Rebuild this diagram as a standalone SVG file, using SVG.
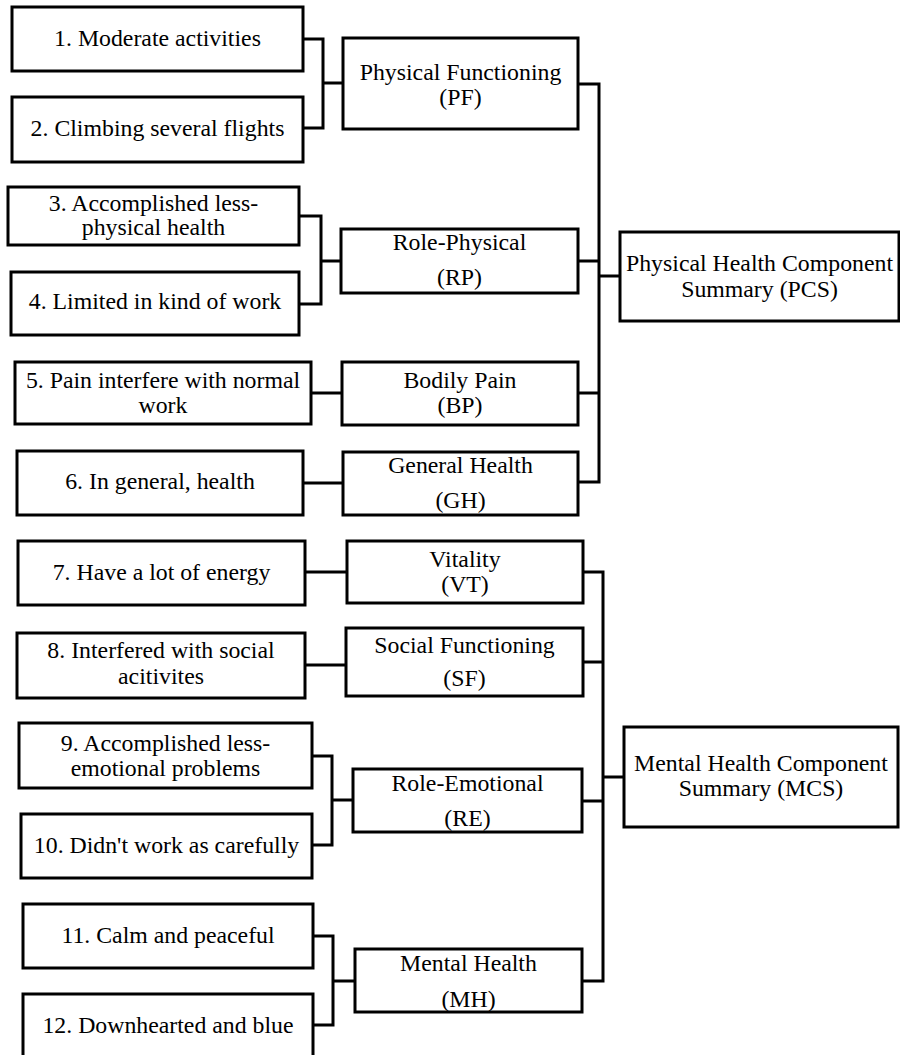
<svg xmlns="http://www.w3.org/2000/svg" width="900" height="1055" viewBox="0 0 900 1055">
<style>
rect{fill:#fff;stroke:#000;stroke-width:3}
text{font-family:"Liberation Serif","Times New Roman",Times,serif;font-size:23.8px;fill:#000;text-anchor:middle}
#connectors path{fill:none;stroke:#000;stroke-width:3}
</style>
<rect x="0" y="0" width="900" height="1055" style="stroke:none"/>
<g id="connectors">
<path d="M303,39 H323 V128 H303 M323,83 H343"/>
<path d="M299,216 H321 V304 H299 M321,261 H341"/>
<path d="M311,393 H342"/>
<path d="M303,483 H343"/>
<path d="M578,84 H599 V482 H578 M578,261 H599 M578,393 H599 M599,276 H620"/>
<path d="M305,572 H347"/>
<path d="M305,665 H346"/>
<path d="M312,756 H332 V845 H312 M332,800 H353"/>
<path d="M313,936 H333 V1025 H313 M333,981 H355"/>
<path d="M583,572 H603 V981 H582 M583,662 H603 M582,801 H603 M603,777 H624"/>
</g>
<g id="n1"><rect x="12" y="7" width="291" height="64"/><text x="157.5" y="46">1. Moderate activities</text></g>
<g id="n2"><rect x="12" y="97" width="291" height="65"/><text x="157.5" y="136">2. Climbing several flights</text></g>
<g id="pf"><rect x="343" y="38" width="235" height="91"/><text x="460.5" y="80">Physical Functioning</text><text x="460.5" y="105">(PF)</text></g>
<g id="n3"><rect x="8" y="187" width="291" height="58"/><text x="153.5" y="211">3. Accomplished less-</text><text x="153.5" y="235">physical health</text></g>
<g id="n4"><rect x="11" y="272" width="288" height="63"/><text x="155" y="309">4. Limited in kind of work</text></g>
<g id="rp"><rect x="341" y="229" width="237" height="64"/><text x="459.5" y="250">Role-Physical</text><text x="459.5" y="285">(RP)</text></g>
<g id="n5"><rect x="15" y="362" width="296" height="62"/><text x="163" y="388">5. Pain interfere with normal</text><text x="163" y="413">work</text></g>
<g id="bp"><rect x="342" y="362" width="236" height="63"/><text x="460" y="388">Bodily Pain</text><text x="460" y="413">(BP)</text></g>
<g id="n6"><rect x="17" y="451" width="286" height="64"/><text x="160" y="489">6. In general, health</text></g>
<g id="gh"><rect x="343" y="452" width="235" height="63"/><text x="460.5" y="473">General Health</text><text x="460.5" y="508">(GH)</text></g>
<g id="pcs"><rect x="620" y="232" width="279" height="89"/><text x="759.5" y="271">Physical Health Component</text><text x="759.5" y="297">Summary (PCS)</text></g>
<g id="n7"><rect x="18" y="541" width="287" height="64"/><text x="161.5" y="580">7. Have a lot of energy</text></g>
<g id="vt"><rect x="347" y="541" width="236" height="62"/><text x="465" y="567">Vitality</text><text x="465" y="592">(VT)</text></g>
<g id="n8"><rect x="17" y="633" width="288" height="65"/><text x="161" y="658">8. Interfered with social</text><text x="161" y="684">acitivites</text></g>
<g id="sf"><rect x="346" y="628" width="237" height="68"/><text x="464.5" y="653">Social Functioning</text><text x="464.5" y="686">(SF)</text></g>
<g id="n9"><rect x="19" y="723" width="293" height="65"/><text x="165.5" y="751">9. Accomplished less-</text><text x="165.5" y="776">emotional problems</text></g>
<g id="n10"><rect x="21" y="814" width="291" height="64"/><text x="166.5" y="853">10. Didn't work as carefully</text></g>
<g id="re"><rect x="353" y="769" width="229" height="63"/><text x="467.5" y="791">Role-Emotional</text><text x="467.5" y="826">(RE)</text></g>
<g id="n11"><rect x="23" y="904" width="290" height="64"/><text x="168" y="943">11. Calm and peaceful</text></g>
<g id="n12"><rect x="23" y="994" width="290" height="70"/><text x="168" y="1033">12. Downhearted and blue</text></g>
<g id="mh"><rect x="355" y="949" width="227" height="63"/><text x="468.5" y="971">Mental Health</text><text x="468.5" y="1007">(MH)</text></g>
<g id="mcs"><rect x="624" y="727" width="274" height="100"/><text x="761" y="771">Mental Health Component</text><text x="761" y="796">Summary (MCS)</text></g>
</svg>
